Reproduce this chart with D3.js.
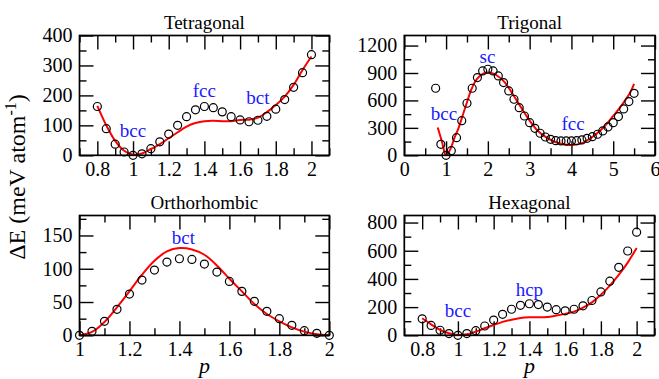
<!DOCTYPE html>
<html>
<head>
<meta charset="utf-8">
<script src="https://cdn.jsdelivr.net/npm/d3@7"></script>
<style>
  body { margin: 0; background: #fff; }
  svg text { font-family: "Liberation Serif", "Times New Roman", Times, "DejaVu Serif", serif !important; }
</style>
</head>
<body>
<div id="chart"></div>
<script>
// ---- DATA ----
// Tetragonal
const tetraP = [0.8, 0.85, 0.9, 0.95, 1, 1.05, 1.1, 1.15, 1.2, 1.25, 1.3, 1.35, 1.4, 1.45, 1.5, 1.55, 1.6, 1.65, 1.7, 1.75, 1.8, 1.85, 1.9, 1.95, 2];
const tetraDft = [163, 89, 37, 11, 0, 5, 22, 45, 71, 100, 129, 152, 163, 159, 145, 129, 118, 112, 117, 130, 154, 186, 227, 276, 336];
const tetraFit = [165, 100, 48, 15, 2, 6, 21, 37, 57, 77, 96, 108, 114, 115, 114, 114, 118, 119, 126, 144, 168, 196, 235, 285, 330];
const tetraLabels = [["bcc", 1.0, 60], ["fcc", 1.4, 194], ["bct", 1.7, 170]];

// Trigonal
const trigP = [0.75, 0.875, 1, 1.125, 1.25, 1.375, 1.5, 1.625, 1.75, 1.875, 2, 2.125, 2.25, 2.375, 2.5, 2.625, 2.75, 2.875, 3, 3.125, 3.25, 3.375, 3.5, 3.625, 3.75, 3.875, 4, 4.125, 4.25, 4.375, 4.5, 4.625, 4.75, 4.875, 5, 5.125, 5.25, 5.375, 5.5];
const trigDft = [733, 120, 0, 51, 193, 379, 569, 733, 850, 923, 941, 923, 868, 795, 704, 613, 521, 430, 357, 295, 241, 200, 175, 160, 157, 157, 157, 160, 168, 186, 204, 230, 266, 310, 357, 423, 507, 587, 678];
const trigFitP = [0.8, 0.9, 1.0, 1.1, 1.2, 1.3, 1.4, 1.5, 1.6, 1.7, 1.8, 1.9, 2.0, 2.1, 2.2, 2.4, 2.6, 2.8, 3.0, 3.2, 3.4, 3.6, 3.8, 4.0, 4.2, 4.4, 4.6, 4.8, 5.0, 5.2, 5.4, 5.5];
const trigFit = [305, 150, 0, 65, 190, 300, 440, 580, 715, 810, 865, 895, 905, 898, 878, 800, 665, 520, 380, 265, 195, 148, 122, 113, 125, 170, 235, 320, 430, 545, 680, 780];
const trigLabels = [["bcc", 0.95, 387], ["sc", 1.99, 1008], ["fcc", 4.04, 274]];

// Orthorhombic
const orthoP = [1, 1.05, 1.1, 1.15, 1.2, 1.25, 1.3, 1.35, 1.4, 1.45, 1.5, 1.55, 1.6, 1.65, 1.7, 1.75, 1.8, 1.85, 1.9, 1.95, 2];
const orthoDft = [0, 6, 21, 39, 62, 83, 98, 110, 115, 114, 107, 95, 81, 66, 51, 36, 25, 15, 7, 3, 0];
const orthoFit = [0, 5, 20, 42, 66, 91, 112, 126, 131, 129, 121, 105, 85, 66, 47, 32, 21, 12, 5.5, 1.5, 0];
const orthoLabels = [["bct", 1.416, 137]];

// Hexagonal
const hexP = [0.8, 0.85, 0.9, 0.95, 1, 1.05, 1.1, 1.15, 1.2, 1.25, 1.3, 1.35, 1.4, 1.45, 1.5, 1.55, 1.6, 1.65, 1.7, 1.75, 1.8, 1.85, 1.9, 1.95, 2];
const hexDft = [117, 70, 36, 12, 0, 12, 33, 66, 108, 149, 185, 213, 224, 218, 200, 182, 174, 185, 209, 247, 308, 384, 482, 598, 732];
const hexFit = [121, 78, 38, 14, 2, 7, 26, 50, 73, 95, 111, 123, 128, 128, 130, 140, 152, 168, 197, 234, 287, 353, 429, 516, 620];
const hexLabels = [["bcc", 1.0, 132], ["hcp", 1.4, 279]];

// Ticks
const pTicks = [0.8, 1, 1.2, 1.4, 1.6, 1.8, 2];
const pMinor = [0.7, 0.9, 1.1, 1.3, 1.5, 1.7, 1.9, 2.1];
const trigXTicks = [0, 1, 2, 3, 4, 5, 6];
const trigXMinor = [0.5, 1.5, 2.5, 3.5, 4.5, 5.5];
const orthoXTicks = [1, 1.2, 1.4, 1.6, 1.8, 2];
const orthoXMinor = [1.1, 1.3, 1.5, 1.7, 1.9];
const tetraYTicks = [0, 100, 200, 300, 400];
const tetraYMinor = [50, 150, 250, 350];
const trigYTicks = [0, 300, 600, 900, 1200];
const trigYMinor = [150, 450, 750, 1050];
const orthoYTicks = [0, 50, 100, 150];
const orthoYMinor = [25, 75, 125, 175];
const hexYTicks = [0, 200, 400, 600, 800];
const hexYMinor = [100, 300, 500, 700];

// ---- LAYOUT ----
const width = 659;
const height = 379;
const majorLen = 14;
const minorLen = 7;
const serif = '"Liberation Serif", "Times New Roman", Times, "DejaVu Serif", serif';

const panels = [
  { title: "Tetragonal", x0: 79.5, y0: 35.5, x1: 329.3, y1: 155.3, xDom: [0.7, 2.1], yDom: [0, 400],
    xTicks: pTicks, xMinor: pMinor, yTicks: tetraYTicks, yMinor: tetraYMinor,
    dotP: tetraP, dotE: tetraDft, fitP: tetraP, fitE: tetraFit, labels: tetraLabels },
  { title: "Trigonal", x0: 404.3, y0: 35.5, x1: 655, y1: 155.3, xDom: [0, 6], yDom: [0, 1310],
    xTicks: trigXTicks, xMinor: trigXMinor, yTicks: trigYTicks, yMinor: trigYMinor,
    dotP: trigP, dotE: trigDft, fitP: trigFitP, fitE: trigFit, labels: trigLabels },
  { title: "Orthorhombic", x0: 79.5, y0: 215.5, x1: 329.3, y1: 335.3, xDom: [1, 2], yDom: [0, 180],
    xTicks: orthoXTicks, xMinor: orthoXMinor, yTicks: orthoYTicks, yMinor: orthoYMinor,
    dotP: orthoP, dotE: orthoDft, fitP: orthoP, fitE: orthoFit, labels: orthoLabels, xLabel: true },
  { title: "Hexagonal", x0: 404.3, y0: 215.5, x1: 654.5, y1: 335.3, xDom: [0.7, 2.1], yDom: [0, 850],
    xTicks: pTicks, xMinor: pMinor, yTicks: hexYTicks, yMinor: hexYMinor,
    dotP: hexP, dotE: hexDft, fitP: hexP, fitE: hexFit, labels: hexLabels, xLabel: true },
];

const fmt = d3.format("~f");

const svg = d3
  .select("#chart")
  .append("svg")
  .attr("width", width)
  .attr("height", height)
  .attr("viewBox", `0 0 ${width} ${height}`)
  .style("font-family", serif);

svg.append("rect").attr("width", width).attr("height", height).attr("fill", "#fff");

const styleAxis = (g) => {
  g.select(".domain").remove();
  g.attr("font-family", null).attr("font-size", 20);
  g.selectAll(".tick line").attr("stroke", "#000").attr("stroke-width", 1.4);
  g.selectAll(".tick text").attr("fill", "#000").style("font-family", serif);
};

panels.forEach((p, i) => {
  const w = p.x1 - p.x0;
  const h = p.y1 - p.y0;
  const x = d3.scaleLinear().domain(p.xDom).range([0, w]);
  const y = d3.scaleLinear().domain(p.yDom).range([h, 0]);
  const g = svg.append("g").attr("transform", `translate(${p.x0},${p.y0})`);

  g.append("clipPath").attr("id", `clip${i}`)
    .append("rect").attr("width", w).attr("height", h);

  // AXES (inward ticks on all four sides)
  g.append("g").attr("transform", `translate(0,${h})`)
    .call(d3.axisBottom(x).tickValues(p.xMinor).tickSize(-minorLen).tickFormat(""))
    .call(styleAxis);
  g.append("g").attr("transform", `translate(0,${h})`)
    .call(d3.axisBottom(x).tickValues(p.xTicks).tickSize(-majorLen).tickPadding(6.5).tickFormat(fmt))
    .call(styleAxis);
  g.append("g")
    .call(d3.axisTop(x).tickValues(p.xMinor).tickSize(-minorLen).tickFormat(""))
    .call(styleAxis);
  g.append("g")
    .call(d3.axisTop(x).tickValues(p.xTicks).tickSize(-majorLen).tickFormat(""))
    .call(styleAxis);
  g.append("g")
    .call(d3.axisLeft(y).tickValues(p.yMinor).tickSize(-minorLen).tickFormat(""))
    .call(styleAxis);
  g.append("g")
    .call(d3.axisLeft(y).tickValues(p.yTicks).tickSize(-majorLen).tickPadding(7).tickFormat(fmt))
    .call(styleAxis);
  g.append("g").attr("transform", `translate(${w},0)`)
    .call(d3.axisRight(y).tickValues(p.yMinor).tickSize(-minorLen).tickFormat(""))
    .call(styleAxis);
  g.append("g").attr("transform", `translate(${w},0)`)
    .call(d3.axisRight(y).tickValues(p.yTicks).tickSize(-majorLen).tickFormat(""))
    .call(styleAxis);

  // FIT LINE
  const fit = p.fitP.map((v, j) => [v, p.fitE[j]]);
  g.append("path")
    .datum(fit)
    .attr("clip-path", `url(#clip${i})`)
    .attr("fill", "none")
    .attr("stroke", "#f00")
    .attr("stroke-width", 2)
    .attr("d", d3.line().x((d) => x(d[0])).y((d) => y(d[1])).curve(d3.curveCatmullRom.alpha(0.5)));

  // DFT POINTS
  g.append("g")
    .selectAll("circle")
    .data(p.dotP.map((v, j) => [v, p.dotE[j]]))
    .join("circle")
    .attr("cx", (d) => x(d[0]))
    .attr("cy", (d) => y(d[1]))
    .attr("r", 4)
    .attr("fill", "none")
    .attr("stroke", "#000")
    .attr("stroke-width", 1.2);

  // FRAME
  g.append("rect")
    .attr("width", w)
    .attr("height", h)
    .attr("fill", "none")
    .attr("stroke", "#000")
    .attr("stroke-width", 1.7);

  // STRUCTURE LABELS
  g.append("g")
    .selectAll("text")
    .data(p.labels)
    .join("text")
    .attr("x", (d) => x(d[1]))
    .attr("y", (d) => y(d[2]))
    .attr("text-anchor", "middle")
    .attr("fill", "#1a1aff")
    .attr("font-size", 19)
    .style("font-family", serif)
    .text((d) => d[0]);

  // TITLE
  g.append("text")
    .attr("x", w / 2)
    .attr("y", -7)
    .attr("text-anchor", "middle")
    .attr("font-size", 19)
    .attr("fill", "#000")
    .style("font-family", serif)
    .text(p.title);

  if (p.xLabel) {
    g.append("text")
      .attr("x", w / 2)
      .attr("y", h + 38)
      .attr("text-anchor", "middle")
      .attr("font-size", 22)
      .attr("font-style", "italic")
      .style("font-family", serif)
      .text("p");
  }
});

// Y LABEL
const yl = svg.append("text")
  .attr("transform", "translate(25,177) rotate(-90)")
  .attr("text-anchor", "middle")
  .attr("font-size", 24)
  .attr("fill", "#000")
  .style("font-family", serif);
yl.append("tspan").text("ΔE (meV atom");
yl.append("tspan").attr("font-size", 16).attr("dy", -9).text("-1");
yl.append("tspan").attr("dy", 9).text(")");
</script>
</body>
</html>
